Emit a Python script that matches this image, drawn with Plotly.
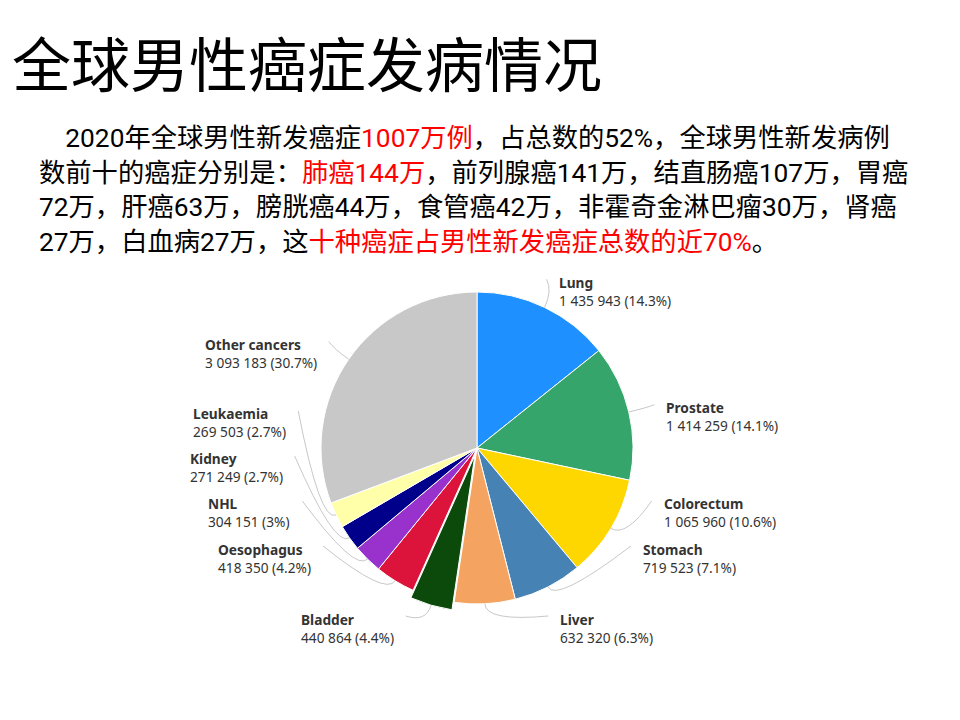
import numpy as np
import plotly.graph_objects as go

# data (GLOBOCAN 2020, males)
cancers = ["Lung", "Prostate", "Colorectum", "Stomach", "Liver", "Bladder",
           "Oesophagus", "NHL", "Kidney", "Leukaemia", "Other cancers"]
cases = [1435943, 1414259, 1065960, 719523, 632320, 440864,
         418350, 304151, 271249, 269503, 3093183]
pulled = ["Bladder"]

title = "全球男性癌症发病情况"
para_lines = [
    "\u30002020年全球男性新发癌症<span style='color:#ff0000'>1007万例</span>，占总数的52%，全球男性新发病例",
    "数前十的癌症分别是：<span style='color:#ff0000'>肺癌144万</span>，前列腺癌141万，结直肠癌107万，胃癌",
    "72万，肝癌63万，膀胱癌44万，食管癌42万，非霍奇金淋巴瘤30万，肾癌",
    "27万，白血病27万，这<span style='color:#ff0000'>十种癌症占男性新发癌症总数的近70%</span>。",
]

colors = ["#1e90ff", "#36a56c", "#ffd700", "#4682b4", "#f4a460", "#0b4a0b",
          "#dc143c", "#9932cc", "#00008b", "#ffffaa", "#c8c8c8"]

W, H = 960, 720
OFF = 8  # page body margin
CX, CY, R = 477, 448, 156
PULL = 0.05
CJK = "Noto Sans CJK SC"
BODY = "Roboto, 'Noto Sans CJK SC'"


def px(x, y):
    return (x - OFF) / W, 1 - (y - OFF) / H


pull = [PULL if c in pulled else 0 for c in cancers]
half = R * (1 + PULL)
a, b = px(CX - half, CY + half)
c_, d = px(CX + half, CY - half)

fig = go.Figure(go.Pie(
    labels=cancers, values=cases, sort=False, direction="clockwise", rotation=0,
    marker=dict(colors=colors, line=dict(color="white", width=1)),
    pull=pull, textinfo="none", hoverinfo="label+value+percent",
    domain=dict(x=[a, c_], y=[b, d]),
))

# label layout from the slice angles (echarts-like: spread labels per side)
total = sum(cases)
frac = np.array(cases) / total
mid = (np.cumsum(frac) - frac / 2) * 2 * np.pi
RL = 1.2 * R
RX = 1.17 * R
GAP = 45
GAP_LOW = 70
YMAX = 616

ly = CY - RL * np.cos(mid)
for side in [mid < np.pi, mid >= np.pi]:
    idx = [i for i in np.argsort(ly) if side[i]]
    for p, q in zip(idx, idx[1:]):
        ly[q] = max(ly[q], ly[p] + GAP)
    ly[idx[-1]] = min(ly[idx[-1]], YMAX)
    rev = idx[::-1]
    for n, (p, q) in enumerate(zip(rev, rev[1:])):
        ly[q] = min(ly[q], ly[p] - (GAP_LOW if n == 0 else GAP))

for i, name in enumerate(cancers):
    right = mid[i] < np.pi
    sgn = 1 if right else -1
    r0 = R * (1 + pull[i])
    s, c = np.sin(mid[i]), np.cos(mid[i])
    x0, y0 = CX + r0 * s, CY - r0 * c
    xc, yc = CX + (r0 + 18) * s, CY - (r0 + 18) * c
    dx = max(np.sqrt(max(RX ** 2 - (ly[i] - CY) ** 2, 0)), 65)
    x1, y1 = CX + sgn * dx, ly[i]
    p0, pc, p1 = px(x0, y0), px(xc, yc), px(x1, y1)
    fig.add_shape(type="path", xref="paper", yref="paper",
                  path=f"M {p0[0]},{p0[1]} Q {pc[0]},{pc[1]} {p1[0]},{p1[1]}",
                  line=dict(color="#c8c8c8", width=1))
    pct = round(cases[i] / total * 100, 1)
    num = f"{cases[i]:,}".replace(",", " ")
    tx, ty = px(x1 + 10 * sgn, y1 + 12)
    fig.add_annotation(
        x=tx, y=ty, xref="paper", yref="paper",
        xanchor="left" if right else "right", yanchor="middle", align="left",
        text=f"<b>{name}</b><br>{num} ({pct:g}%)", showarrow=False,
        font=dict(family="Noto Sans", size=13.7, color="#333333"))

tx, ty = px(10, 62)
fig.add_annotation(x=tx, y=ty, xref="paper", yref="paper",
                   xanchor="left", yanchor="middle", text=title, showarrow=False,
                   font=dict(family=CJK, size=59, color="black"))

for k, line in enumerate(para_lines):
    tx, ty = px(38, 138 + 34.6 * k)
    fig.add_annotation(x=tx, y=ty, xref="paper", yref="paper",
                       xanchor="left", yanchor="middle", align="left",
                       text=line, showarrow=False, borderpad=0,
                       font=dict(family=BODY, size=26.3, color="black"))

fig.update_layout(width=W, height=H, margin=dict(l=0, r=0, t=0, b=0),
                  showlegend=False, paper_bgcolor="white", plot_bgcolor="white")
fig.write_html("out.html")
